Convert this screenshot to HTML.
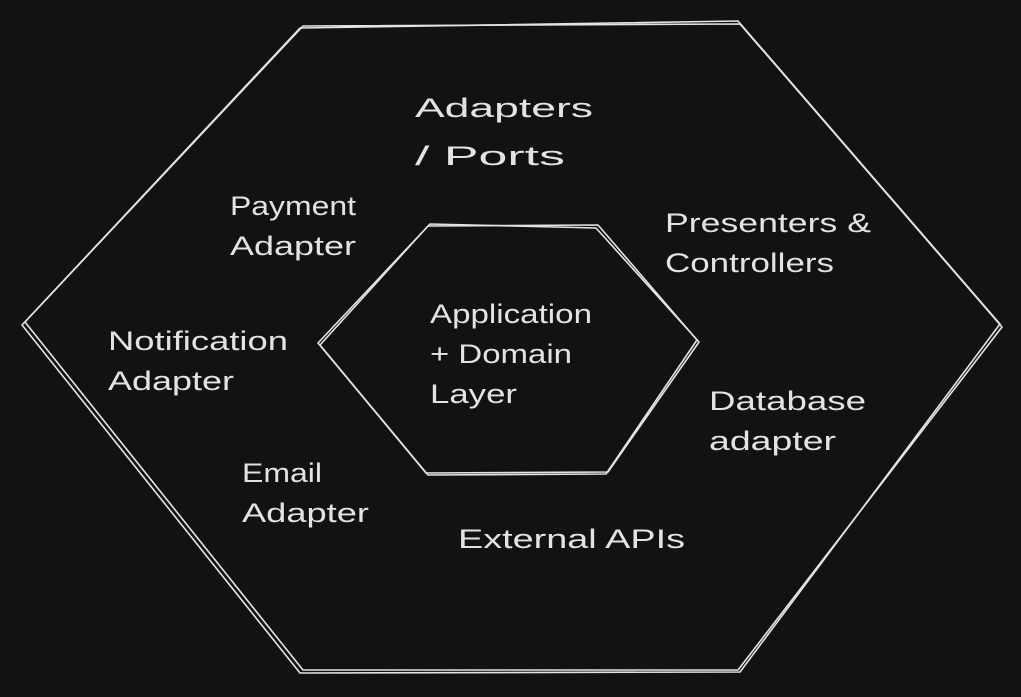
<!DOCTYPE html>
<html><head><meta charset="utf-8"><style>
html,body{margin:0;padding:0;background:#121212;}
svg{display:block;}
text{font-family:"Liberation Sans",sans-serif;fill:#e3e3e3;font-size:27px;}
</style></head><body>
<svg width="1021" height="697" viewBox="0 0 1021 697" xmlns="http://www.w3.org/2000/svg">
<g fill="none" stroke="#e3e3e3" stroke-width="1.6" stroke-linejoin="round">
<polygon points="300,28 738,21 1000,324 740,672 300,673 22,325"/>
<polygon points="303,26 740,24 1002,327 738,670 303,670 25,322"/>
<polygon points="428,226 598,225 697,340 606,474 428,475 320,345"/>
<polygon points="430,224 596,228 699,342 608,472 426,473 318,343"/>
</g>
<text x="415" y="117" font-size="37" textLength="178" lengthAdjust="spacingAndGlyphs">Adapters</text>
<text x="415" y="165" font-size="37" textLength="150" lengthAdjust="spacingAndGlyphs">/ Ports</text>
<text x="230" y="215" textLength="126" lengthAdjust="spacingAndGlyphs">Payment</text>
<text x="230" y="255" textLength="126" lengthAdjust="spacingAndGlyphs">Adapter</text>
<text x="665" y="232" textLength="206" lengthAdjust="spacingAndGlyphs">Presenters &amp;</text>
<text x="665" y="272" textLength="169" lengthAdjust="spacingAndGlyphs">Controllers</text>
<text x="430" y="323" textLength="162" lengthAdjust="spacingAndGlyphs">Application</text>
<text x="430" y="363" textLength="142" lengthAdjust="spacingAndGlyphs">+ Domain</text>
<text x="430" y="403" textLength="87" lengthAdjust="spacingAndGlyphs">Layer</text>
<text x="108" y="350" textLength="180" lengthAdjust="spacingAndGlyphs">Notification</text>
<text x="108" y="390" textLength="126" lengthAdjust="spacingAndGlyphs">Adapter</text>
<text x="709" y="410" textLength="157" lengthAdjust="spacingAndGlyphs">Database</text>
<text x="709" y="450" textLength="127" lengthAdjust="spacingAndGlyphs">adapter</text>
<text x="242" y="482" textLength="80" lengthAdjust="spacingAndGlyphs">Email</text>
<text x="242" y="522" textLength="127" lengthAdjust="spacingAndGlyphs">Adapter</text>
<text x="458" y="548" textLength="227" lengthAdjust="spacingAndGlyphs">External APIs</text>
</svg>
</body></html>
